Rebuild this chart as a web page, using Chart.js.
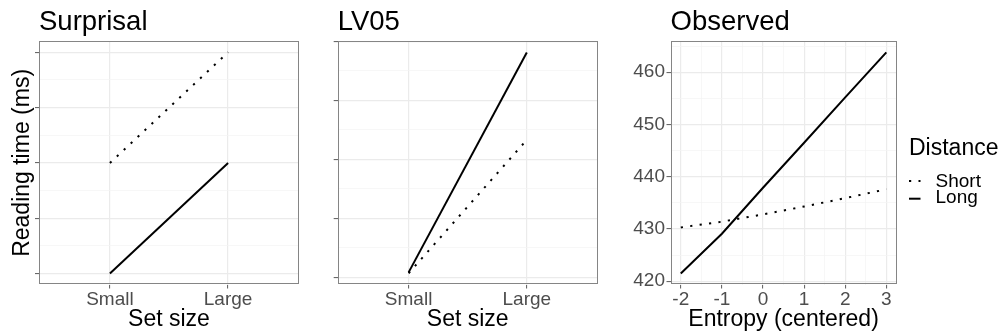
<!DOCTYPE html>
<html>
<head>
<meta charset="utf-8">
<title>Reading time by set size and entropy</title>
<script src="https://cdn.jsdelivr.net/npm/chart.js@4.4.1/dist/chart.umd.min.js"></script>
<style>
  html, body { margin: 0; padding: 0; background: #ffffff; }
  #wrap { position: relative; width: 1005px; height: 335px; overflow: hidden; }
  canvas { position: absolute; top: 0; }
</style>
</head>
<body>
<div id="wrap">
  <canvas id="surprisal" width="305" height="335" style="left:0px"></canvas>
  <canvas id="lv05" width="300" height="335" style="left:305px"></canvas>
  <canvas id="observed" width="400" height="335" style="left:605px"></canvas>
</div>
<script>
// ---- data ----
const setSizes = ['Small', 'Large'];
const distanceLevels = ['Short', 'Long'];

const surprisalShort = [2, 4];
const surprisalLong = [0, 2];

const lv05Short = [0.07, 2.33];
const lv05Long = [0.085, 3.81];

const entropyValues = [-2, -1, 0, 1, 2, 3];
const observedShort = [430.3, 431.4, 432.8, 434.3, 435.9, 437.6];
const observedLong = [421.5, 429.1, 437.9, 446.5, 455.2, 463.8];

const observedYTicks = [420, 430, 440, 450, 460];
const observedXTicks = [-2, -1, 0, 1, 2, 3];

// ---- styling ----
const FONT = "'Liberation Sans', Arial, Helvetica, sans-serif";
const TICK_TEXT = '#4d4d4d';
const GRID_MAJOR = '#ebebeb';
const GRID_MINOR = '#f4f4f4';
const FRAME = '#858585';
const TICK_MARK = '#5a5a5a';
const TICK_FONT = 19;

const lineStyles = {
  Short: { borderDash: [2.2, 7.3], borderCapStyle: 'butt' },
  Long: { borderDash: [], borderCapStyle: 'butt' }
};

// panel frame, titles and (optionally) legend
const panelDecor = {
  id: 'panelDecor',
  afterDraw(chart, args, o) {
    const { ctx, chartArea: a } = chart;
    ctx.save();
    // frame around the plotting region
    ctx.strokeStyle = FRAME;
    ctx.lineWidth = 1;
    ctx.strokeRect(Math.round(a.left) + 0.5, Math.round(a.top) + 0.5,
                   Math.round(a.right - a.left) - 1, Math.round(a.bottom - a.top) - 1);

    ctx.fillStyle = '#000000';
    ctx.textBaseline = 'alphabetic';
    // panel title
    ctx.font = '27.5px ' + FONT;
    ctx.textAlign = 'left';
    ctx.fillText(o.title, a.left, o.titleBaseline);
    // x axis title
    ctx.font = '23px ' + FONT;
    ctx.textAlign = 'center';
    ctx.fillText(o.xTitle, (a.left + a.right) / 2, o.xTitleBaseline);
    // y axis title
    if (o.yTitle) {
      ctx.save();
      ctx.translate(o.yTitleX, (a.top + a.bottom) / 2);
      ctx.rotate(-Math.PI / 2);
      ctx.fillText(o.yTitle, 0, 0);
      ctx.restore();
    }
    // legend
    if (o.legend) {
      const L = o.legend;
      ctx.textAlign = 'left';
      ctx.font = '23px ' + FONT;
      ctx.fillText(L.title, L.x, L.titleBaseline);
      ctx.font = TICK_FONT + 'px ' + FONT;
      chart.data.datasets.forEach((ds, i) => {
        const yKey = L.keyY[i];
        ctx.save();
        ctx.strokeStyle = ds.borderColor;
        ctx.lineWidth = ds.borderWidth;
        ctx.lineCap = 'butt';
        ctx.setLineDash(ds.borderDash || []);
        ctx.beginPath();
        ctx.moveTo(L.x, yKey);
        ctx.lineTo(L.x + L.keyW, yKey);
        ctx.stroke();
        ctx.restore();
        ctx.fillStyle = '#000000';
        ctx.fillText(ds.label, L.labelX, L.labelBaseline[i]);
      });
    }
    ctx.restore();
  }
};

function gridStyle(isMajor) {
  return {
    display: true,
    drawTicks: true,
    tickLength: 4,
    color: c => (c.tick && isMajor(c.tick.value)) ? GRID_MAJOR : GRID_MINOR,
    lineWidth: c => (c.tick && isMajor(c.tick.value)) ? 1.2 : 0.7,
    tickColor: c => (c.tick && isMajor(c.tick.value)) ? TICK_MARK : 'rgba(0,0,0,0)',
    tickWidth: 1
  };
}

function makePanel(id, cfg) {
  return new Chart(document.getElementById(id), {
    type: 'line',
    data: {
      datasets: cfg.series.map(s => ({
        label: s.label,
        data: s.x.map((xv, i) => ({ x: xv, y: s.y[i] })),
        borderColor: '#000000',
        borderWidth: 2,
        borderDash: lineStyles[s.label].borderDash,
        borderCapStyle: lineStyles[s.label].borderCapStyle,
        pointRadius: 0,
        tension: 0,
        fill: false
      }))
    },
    options: {
      responsive: false,
      animation: false,
      events: [],
      layout: { padding: { top: cfg.top, right: cfg.right, left: 0, bottom: 0 } },
      plugins: {
        legend: { display: false },
        tooltip: { enabled: false },
        title: { display: false },
        panelDecor: cfg.decor
      },
      scales: {
        x: {
          type: 'linear',
          min: cfg.xMin, max: cfg.xMax,
          afterBuildTicks: s => { s.ticks = cfg.xGrid.map(v => ({ value: v })); },
          afterFit: s => { s.height = cfg.xAxisHeight; },
          ticks: {
            autoSkip: false, maxRotation: 0, minRotation: 0,
            padding: 0,
            color: TICK_TEXT,
            font: { family: FONT, size: TICK_FONT },
            callback: v => cfg.xLabel(v)
          },
          grid: gridStyle(cfg.xMajor),
          border: { display: false }
        },
        y: {
          type: 'linear',
          min: cfg.yMin, max: cfg.yMax,
          afterBuildTicks: s => { s.ticks = cfg.yGrid.map(v => ({ value: v })); },
          afterFit: s => { s.width = cfg.yAxisWidth; },
          ticks: {
            autoSkip: false,
            padding: 1.5,
            color: TICK_TEXT,
            font: { family: FONT, size: TICK_FONT },
            callback: v => cfg.yLabel(v)
          },
          grid: gridStyle(cfg.yMajor),
          border: { display: false }
        }
      }
    },
    plugins: [panelDecor]
  });
}

const setSizeX = setSizes.map((_, i) => i + 1);
const setSizeLabel = v => (Number.isInteger(v) && setSizes[v - 1]) ? setSizes[v - 1] : '';
const unitGrid = [0, 0.5, 1, 1.5, 2, 2.5, 3, 3.5, 4];
const isInt = v => Math.abs(v - Math.round(v)) < 1e-9;

makePanel('surprisal', {
  series: [
    { label: distanceLevels[0], x: setSizeX, y: surprisalShort },
    { label: distanceLevels[1], x: setSizeX, y: surprisalLong }
  ],
  top: 41.3, right: 6, yAxisWidth: 39, xAxisHeight: 50.5,
  xMin: 0.4, xMax: 2.6, xGrid: setSizeX, xLabel: setSizeLabel, xMajor: () => true,
  yMin: -0.2, yMax: 4.2, yGrid: unitGrid, yLabel: () => '', yMajor: isInt,
  decor: { title: 'Surprisal', titleBaseline: 29.5, xTitle: 'Set size', xTitleBaseline: 326,
           yTitle: 'Reading time (ms)', yTitleX: 28.5 }
});

makePanel('lv05', {
  series: [
    { label: distanceLevels[0], x: setSizeX, y: lv05Short },
    { label: distanceLevels[1], x: setSizeX, y: lv05Long }
  ],
  top: 41.3, right: 7.3, yAxisWidth: 32.7, xAxisHeight: 50.5,
  xMin: 0.4, xMax: 2.6, xGrid: setSizeX, xLabel: setSizeLabel, xMajor: () => true,
  yMin: -0.12, yMax: 4.0, yGrid: unitGrid, yLabel: () => '', yMajor: isInt,
  decor: { title: 'LV05', titleBaseline: 29.5, xTitle: 'Set size', xTitleBaseline: 326 }
});

makePanel('observed', {
  series: [
    { label: distanceLevels[0], x: entropyValues, y: observedShort },
    { label: distanceLevels[1], x: entropyValues, y: observedLong }
  ],
  top: 41.3, right: 108.4, yAxisWidth: 65.5, xAxisHeight: 50.5,
  xMin: -2.25, xMax: 3.25,
  xGrid: [-2, -1.5, -1, -0.5, 0, 0.5, 1, 1.5, 2, 2.5, 3],
  xLabel: v => observedXTicks.includes(v) ? String(v) : '', xMajor: isInt,
  yMin: 419.38, yMax: 465.92,
  yGrid: [420, 425, 430, 435, 440, 445, 450, 455, 460, 465],
  yLabel: v => observedYTicks.includes(v) ? String(v) : '',
  yMajor: v => Math.abs(v % 10) < 1e-9,
  decor: {
    title: 'Observed', titleBaseline: 29.5, xTitle: 'Entropy (centered)', xTitleBaseline: 326,
    legend: {
      title: 'Distance', x: 304, titleBaseline: 155.3, keyW: 11.5,
      keyY: [181, 198.7], labelX: 330.5, labelBaseline: [186.7, 203.3]
    }
  }
});
</script>
</body>
</html>
